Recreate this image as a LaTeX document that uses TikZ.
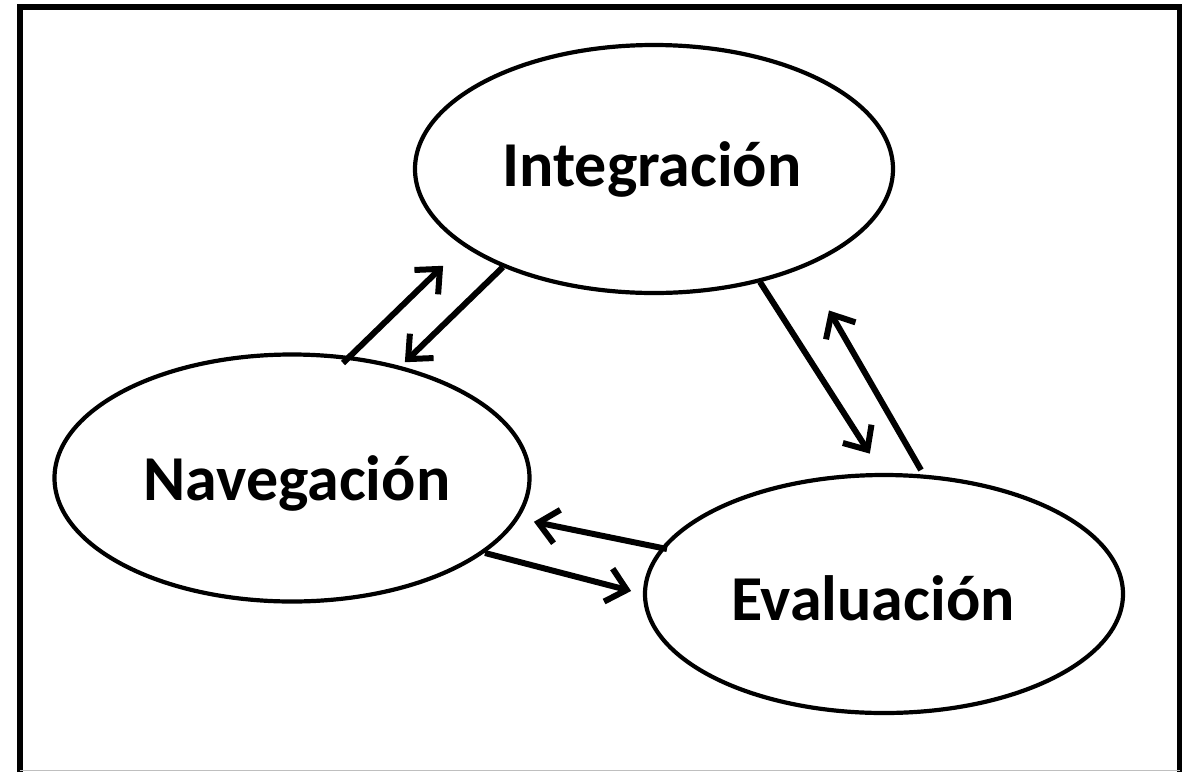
\documentclass[tikz,border=0pt]{standalone}
\usepackage{fontspec}
\setmainfont{Carlito}
\usetikzlibrary{shapes.geometric,arrows.meta}
\begin{document}
\begin{tikzpicture}[x=1pt,y=-1pt,
  bubble/.style={draw, ellipse, line width=4.2pt, inner sep=0pt, font=\fontsize{64}{70}\selectfont\bfseries},
  label/.style={font=\fontsize{64}{70}\selectfont\bfseries},
  link/.style={line width=6pt, -{Straight Barb[length=19pt,width=34pt,line width=6pt]}, shorten >=4pt}]
\useasboundingbox (0,0) rectangle (1189,772);
\fill[white] (0,0) rectangle (1189,772);
\draw[line width=5.5pt] (20,772) -- (20,7) -- (1179.5,7) -- (1179.5,772);
\draw[line width=1pt, gray!50] (20,770.5) -- (1179.5,770.5);
\node[bubble, minimum width=478pt, minimum height=248pt] (int) at (654,169) {\kern-4pt Integración};
\node[bubble, minimum width=475pt, minimum height=247pt] (nav) at (292,478) {};
\node[label] (navt) at (297,483) {Navegación};
\node[bubble, minimum width=478pt, minimum height=238pt] (eva) at (884,594) {};
\node[label] (evat) at (873,598) {Evaluación};
\coordinate (a1s) at (343,363); \coordinate (a1e) at (446,263);
\coordinate (a2s) at (503,267); \coordinate (a2e) at (402,365);
\coordinate (a3s) at (760,282); \coordinate (a3e) at (872,457);
\coordinate (a4s) at (921,470); \coordinate (a4e) at (827,307);
\coordinate (a5s) at (667,549); \coordinate (a5e) at (530,521);
\coordinate (a6s) at (485,553); \coordinate (a6e) at (635,592);
\draw[link] (a1s) -- (a1e);
\draw[link] (a2s) -- (a2e);
\draw[link] (a3s) -- (a3e);
\draw[link] (a4s) -- (a4e);
\draw[link] (a5s) -- (a5e);
\draw[link] (a6s) -- (a6e);
\end{tikzpicture}
\end{document}
